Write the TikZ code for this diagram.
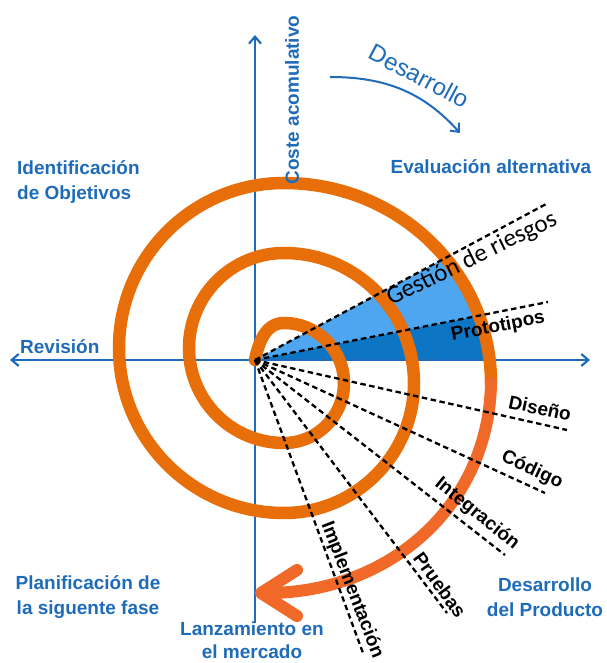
\documentclass[tikz,border=0pt]{standalone}
\usepackage{fontspec}
\setmainfont{Liberation Sans}
\newfontfamily\carlito{Carlito}
\usetikzlibrary{arrows.meta}
\definecolor{azuleje}{RGB}{30,108,185}
\definecolor{azulclaro}{RGB}{78,166,240}
\definecolor{azuloscuro}{RGB}{12,118,196}
\definecolor{naranja}{RGB}{232,110,10}
\definecolor{naranjafl}{RGB}{240,105,40}
\tikzset{
  eje/.style = {draw=azuleje, line width=2.2pt},% ejes del plano
  anillo/.style = {draw=naranja, line width=12.5pt, line cap=round},% espiral
  flechafin/.style = {draw=naranjafl, line width=12pt, line cap=round,
    -{Straight Barb[length=36pt,width=46pt,round]}},% salida al mercado
  linea/.style = {draw=black, line width=2.3pt, dash pattern=on 5.5pt off 3.5pt},% etapas
  etapa/.style = {inner sep=0pt, text=black,
    font=\fontsize{19}{23}\selectfont\bfseries},% texto de etapa
  cuadrante/.style = {inner sep=0pt, text=azuleje, align=center,
    font=\fontsize{19}{25}\selectfont\bfseries}% texto de cuadrante
}
\begin{document}
\begin{tikzpicture}[x=1pt,y=1pt,>={Straight Barb[length=7pt,width=12pt]}]
\useasboundingbox (-255,-303) rectangle (351,360);
\coordinate (O) at (0,0);
\coordinate (gest) at (293,157);
\coordinate (proto) at (293,58);
\coordinate (dis) at (312,-70);
\coordinate (cod) at (290,-133);
\coordinate (integ) at (250,-195);
\coordinate (prue) at (192,-253);
\coordinate (impl) at (108,-293);

% sectores
\begin{scope}
  \clip (27,-23) ellipse [x radius=207, y radius=200];
  \fill[azulclaro] (O) -- (gest) -- (proto) -- cycle;
  \fill[azuloscuro] (O) -- (proto) -- (proto |- O) -- cycle;
\end{scope}

% ejes
\coordinate (ejeizq) at (-245,0);
\coordinate (ejeder) at (335,0);
\coordinate (ejeabajo) at (0,-263);
\coordinate (ejearriba) at (0,325);
\draw[eje,<->] (ejeizq) -- (ejeder);
\draw[eje,->] (ejeabajo) -- (ejearriba);

% espiral
\draw[anillo] (O) to[out=78,in=180] (29,37)
  arc[start angle=90, end angle=-90, radius=60]
  arc[start angle=270, end angle=90, radius=95]
  arc[start angle=90, end angle=-90, radius=130]
  arc[start angle=270, end angle=90, radius=165]
  arc[start angle=90, end angle=0, x radius=207, y radius=200] coordinate (espfin);
\coordinate (mercado) at (0,-233);
\draw[flechafin] (espfin) .. controls (234,-145) and (135,-233) .. (mercado);

% etapas
\foreach \e in {gest,proto,dis,cod,integ,prue,impl}
  \draw[linea] (O) -- (\e);

\node[inner sep=0pt, font=\carlito\fontsize{25}{30}\selectfont, rotate=26] (gestion) at (217,101) {Gestión de riesgos};
\node[etapa, rotate=11] (prototipos) at (243,33) {Prototipos};
\node[etapa, rotate=-12] (diseno) at (285,-48) {Diseño};
\node[etapa, rotate=-25] (codigo) at (277,-110) {Código};
\node[etapa, rotate=-39] (integracion) at (222,-154) {Integración};
\node[etapa, rotate=-54] (pruebas) at (185,-225) {Pruebas};
\node[etapa, rotate=-69] (implementacion) at (97,-230) {Implementación};

% cuadrantes
\node[cuadrante, rotate=90] (coste) at (37,260) {Coste acomulativo};
\node[cuadrante] (evaluacion) at (236,193) {Evaluación alternativa};
\node[cuadrante, anchor=west, align=left] (objetivos) at (-238,178) {Identificación\\de Objetivos};
\node[cuadrante, anchor=west] (revision) at (-235,13) {Revisión};
\node[cuadrante] (planificacion) at (-167,-237) {Planificación de\\la siguente fase};
\node[cuadrante, font=\fontsize{19}{23}\selectfont\bfseries] (lanzamiento) at (-3,-280) {Lanzamiento en\\el mercado};
\node[cuadrante] (producto) at (290,-237) {Desarrollo\\del Producto};

% sentido de avance
\node[inner sep=0pt, text=azuleje, font=\fontsize{24}{28}\selectfont, rotate=-28] (desarrollo) at (164,284) {Desarrollo};
\coordinate (giroini) at (75,283);
\coordinate (girofin) at (205,227);
\draw[eje, line width=2pt, ->] (giroini) to[out=0,in=132] (girofin);
\end{tikzpicture}
\end{document}
